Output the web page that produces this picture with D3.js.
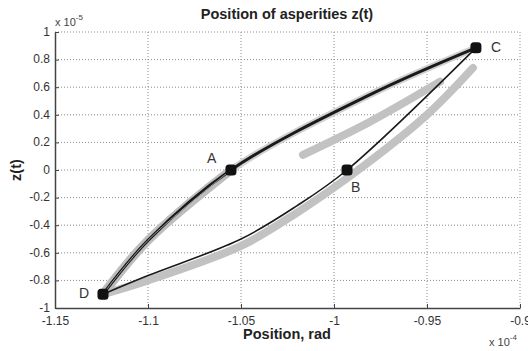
<!DOCTYPE html>
<html>
<head>
<meta charset="utf-8">
<script src="https://cdn.jsdelivr.net/npm/d3@7"></script>
<style>
  body { margin: 0; background: #fff; }
  svg { display: block; font-family: "Liberation Sans", Arial, sans-serif; }
  .axis path, .axis line { stroke: #444; }
  .axis text { fill: #333; font-size: 12px; }
</style>
</head>
<body>
<svg id="chart" width="528" height="351"></svg>
<script>
// x in units of 1e-4 rad, z in units of 1e-5
const xTicks = [-1.15, -1.1, -1.05, -1, -0.95, -0.9];
const yTicks = [-1, -0.8, -0.6, -0.4, -0.2, 0, 0.2, 0.4, 0.6, 0.8, 1];

// upper branch D -> A -> C
const upperX = [-1.1242, -1.1, -1.0554, -0.98, -0.9237];
const upperZ = [-0.90, -0.51, 0, 0.55, 0.885];

// lower branch D -> B -> C
const lowerX = [-1.1242, -1.1, -1.05, -1.02, -0.993, -0.9237];
const lowerZ = [-0.90, -0.765, -0.50, -0.26, 0, 0.885];

// grey measured traces
const greyLowX = [-1.1242, -1.1, -1.05, -1.02, -0.984, -0.95, -0.9253];
const greyLowZ = [-0.90, -0.80, -0.55, -0.31, 0.03, 0.40, 0.74];
const greyMidX = [-1.0167, -0.9806, -0.943];
const greyMidZ = [0.11, 0.35, 0.64];

const pointNames = ["A", "B", "C", "D"];
const pointX = [-1.0554, -0.993, -0.9237, -1.1242];
const pointZ = [0, 0, 0.885, -0.90];

const svg = d3.select("#chart");
const plotLeft = 55, plotRight = 520, plotTop = 32, plotBottom = 308;

const x = d3.scaleLinear().domain([-1.15, -0.9]).range([plotLeft, plotRight]);
const y = d3.scaleLinear().domain([-1, 1]).range([plotBottom, plotTop]);

const zip = (xs, zs) => xs.map((v, i) => [v, zs[i]]);

// grid
svg.append("g").selectAll("line")
  .data(xTicks.slice(1))
  .join("line")
  .attr("x1", d => x(d)).attr("x2", d => x(d))
  .attr("y1", plotTop).attr("y2", plotBottom)
  .attr("stroke", "#8a8a8a").attr("stroke-dasharray", "1,2");

svg.append("g").selectAll("line")
  .data(yTicks.slice(1))
  .join("line")
  .attr("x1", plotLeft).attr("x2", plotRight)
  .attr("y1", d => y(d)).attr("y2", d => y(d))
  .attr("stroke", "#8a8a8a").attr("stroke-dasharray", "1,2");

// axes with inward ticks
svg.append("g")
  .attr("class", "axis")
  .attr("transform", `translate(0,${plotBottom})`)
  .call(d3.axisBottom(x).tickValues(xTicks).tickFormat(d => String(d))
    .tickSizeInner(-4).tickSizeOuter(0).tickPadding(8))
  .call(g => g.select(".domain").attr("stroke-width", 1.5));

svg.append("g")
  .attr("class", "axis")
  .attr("transform", `translate(${plotLeft},0)`)
  .call(d3.axisLeft(y).tickValues(yTicks).tickFormat(d => String(d))
    .tickSizeInner(-4).tickSizeOuter(0).tickPadding(5))
  .call(g => g.select(".domain").attr("stroke-width", 1.5))
  .call(g => g.selectAll(".tick text").attr("dy", "0.28em"));

const line = d3.line()
  .x(d => x(d[0]))
  .y(d => y(d[1]))
  .curve(d3.curveCatmullRom.alpha(0.5));

// grey traces
svg.append("path")
  .attr("d", line(zip(greyLowX, greyLowZ)))
  .attr("fill", "none").attr("stroke", "#c2c2c2")
  .attr("stroke-width", 8).attr("stroke-linecap", "round");

svg.append("path")
  .attr("d", line(zip(greyMidX, greyMidZ)))
  .attr("fill", "none").attr("stroke", "#c2c2c2")
  .attr("stroke-width", 8).attr("stroke-linecap", "round");

const upper = zip(upperX, upperZ);
const upperDA = upper.slice(0, 3);

svg.append("path")
  .attr("d", line(upper))
  .attr("fill", "none").attr("stroke", "#d0d0d0")
  .attr("stroke-width", 7);

svg.append("path")
  .attr("d", line(upperDA))
  .attr("fill", "none").attr("stroke", "#bdbdbd")
  .attr("stroke-width", 9);

// black branches
svg.append("path")
  .attr("d", line(zip(lowerX, lowerZ)))
  .attr("fill", "none").attr("stroke", "#1a1a1a")
  .attr("stroke-width", 1.6);

svg.append("path")
  .attr("d", line(upper))
  .attr("fill", "none").attr("stroke", "#1a1a1a")
  .attr("stroke-width", 3);

svg.append("path")
  .attr("d", line(upperDA))
  .attr("fill", "none").attr("stroke", "#9a9a9a")
  .attr("stroke-width", 1);

// points
svg.append("g").selectAll("rect")
  .data(pointNames)
  .join("rect")
  .attr("x", (d, i) => x(pointX[i]) - 5.5)
  .attr("y", (d, i) => y(pointZ[i]) - 5.5)
  .attr("width", 11).attr("height", 11)
  .attr("rx", 3.5)
  .attr("fill", "#111");

const labelDx = { A: -24, B: 4, C: 15, D: -24 };
const labelDy = { A: -7, B: 22, C: 4, D: 4 };

svg.append("g").selectAll("text")
  .data(pointNames)
  .join("text")
  .attr("x", (d, i) => x(pointX[i]) + labelDx[d])
  .attr("y", (d, i) => y(pointZ[i]) + labelDy[d])
  .attr("font-size", 14)
  .attr("fill", "#333")
  .text(d => d);

// titles
svg.append("text")
  .attr("x", 287).attr("y", 19)
  .attr("text-anchor", "middle")
  .attr("font-size", 14.5).attr("font-weight", "bold")
  .attr("fill", "#222")
  .text("Position of asperities z(t)");

svg.append("text")
  .attr("x", 287).attr("y", 339)
  .attr("text-anchor", "middle")
  .attr("font-size", 14.5).attr("font-weight", "bold")
  .attr("fill", "#222")
  .text("Position, rad");

svg.append("text")
  .attr("transform", "translate(21,170) rotate(-90)")
  .attr("text-anchor", "middle")
  .attr("font-size", 14.5).attr("font-weight", "bold")
  .attr("fill", "#222")
  .text("z(t)");

// exponent labels
const expTop = svg.append("text").attr("x", 55).attr("y", 26)
  .attr("font-size", 11).attr("fill", "#444");
expTop.append("tspan").text("x 10");
expTop.append("tspan").attr("dy", -6).attr("font-size", 8).text("-5");

const expBottom = svg.append("text").attr("x", 489).attr("y", 346)
  .attr("font-size", 11).attr("fill", "#444");
expBottom.append("tspan").text("x 10");
expBottom.append("tspan").attr("dy", -6).attr("font-size", 8).text("-4");
</script>
</body>
</html>
